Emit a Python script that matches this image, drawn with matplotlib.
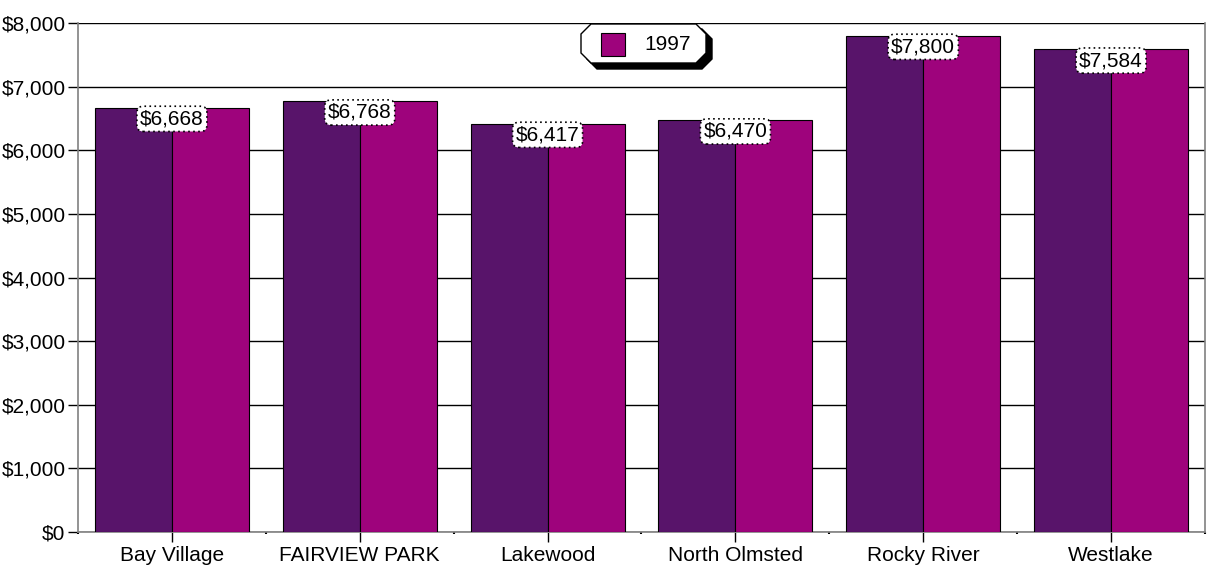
import matplotlib
matplotlib.use("Agg")
import matplotlib.pyplot as plt
from matplotlib.patches import Polygon, Rectangle
from matplotlib import font_manager
import numpy as np

# data
cities = ["Bay Village", "FAIRVIEW PARK", "Lakewood", "North Olmsted", "Rocky River", "Westlake"]
values_1997 = [6668, 6768, 6417, 6470, 7800, 7584]
yticks = [0, 1000, 2000, 3000, 4000, 5000, 6000, 7000, 8000]
series_name = "1997"

dark = "#58146a"
magenta = "#9e037c"

names = {f.name for f in font_manager.fontManager.ttflist}
fam = "Liberation Sans Narrow" if "Liberation Sans Narrow" in names else "Liberation Sans"
plt.rcParams['font.family'] = [fam, 'DejaVu Sans']

fig = plt.figure(figsize=(12.09, 5.69), dpi=100)
ax = fig.add_axes([78/1209, 1-532/569, 1127/1209, 509/569])

x = np.arange(len(cities))
w = 0.41
ax.bar(x - w/2, values_1997, w, color=dark, edgecolor="black", linewidth=0.8, zorder=3)
ax.bar(x + w/2, values_1997, w, color=magenta, edgecolor="black", linewidth=0.8, zorder=3)

for xi, v in zip(x, values_1997):
    ax.annotate("${:,}".format(v), (xi, v), xytext=(0, -8), textcoords="offset points",
                ha="center", va="center", fontsize=15, zorder=5,
                bbox=dict(boxstyle="round,pad=0.15,rounding_size=0.3", fc="white",
                          ec="black", ls=(0, (1, 2)), lw=1.2))

ax.set_xlim(-0.5, len(cities) - 0.5)
ax.set_ylim(0, 8000)
ax.set_yticks(yticks)
ax.set_yticklabels(["${:,}".format(t) for t in yticks], fontsize=15)
ax.set_xticks(x)
ax.set_xticklabels(cities, fontsize=15)
ax.set_xticks(np.arange(len(cities) + 1) - 0.5, minor=True)
ax.tick_params(axis="x", which="major", length=7, width=1, color="black", pad=3)
ax.tick_params(axis="x", which="minor", length=1.5, width=1.5, color="black")
ax.tick_params(axis="y", length=7, width=1, color="black", pad=2)
ax.grid(axis="y", color="black", linewidth=1, zorder=0)

for s in ["left", "bottom", "right"]:
    ax.spines[s].set_color("#808080")
    ax.spines[s].set_linewidth(1.2)
ax.spines["top"].set_visible(False)

# legend box (octagon with shadow)
def octagon(x0, y0, x1, y1, c):
    return [(x0 + c, y0), (x1 - c, y0), (x1, y0 + c), (x1, y1 - c),
            (x1 - c, y1), (x0 + c, y1), (x0, y1 - c), (x0, y0 + c)]

def fx(px):
    return px / 1209

def fy(py):
    return 1 - py / 569

sh = [(fx(a), fy(b)) for a, b in octagon(587, 29, 712, 69, 10)]
fig.patches.append(Polygon(sh, closed=True, transform=fig.transFigure, fc="black", ec="black", zorder=10))
pts = [(fx(a), fy(b)) for a, b in octagon(581, 24, 706, 63, 10)]
fig.patches.append(Polygon(pts, closed=True, transform=fig.transFigure, fc="white", ec="black", lw=1, zorder=11))
fig.patches.append(Rectangle((fx(601), fy(56)), 24/1209, 23/569, transform=fig.transFigure,
                             fc=magenta, ec="black", lw=0.8, zorder=12))
fig.text(fx(644), fy(44), series_name, fontsize=15, va="center", ha="left", zorder=13)

fig.savefig("out.png", dpi=100)
